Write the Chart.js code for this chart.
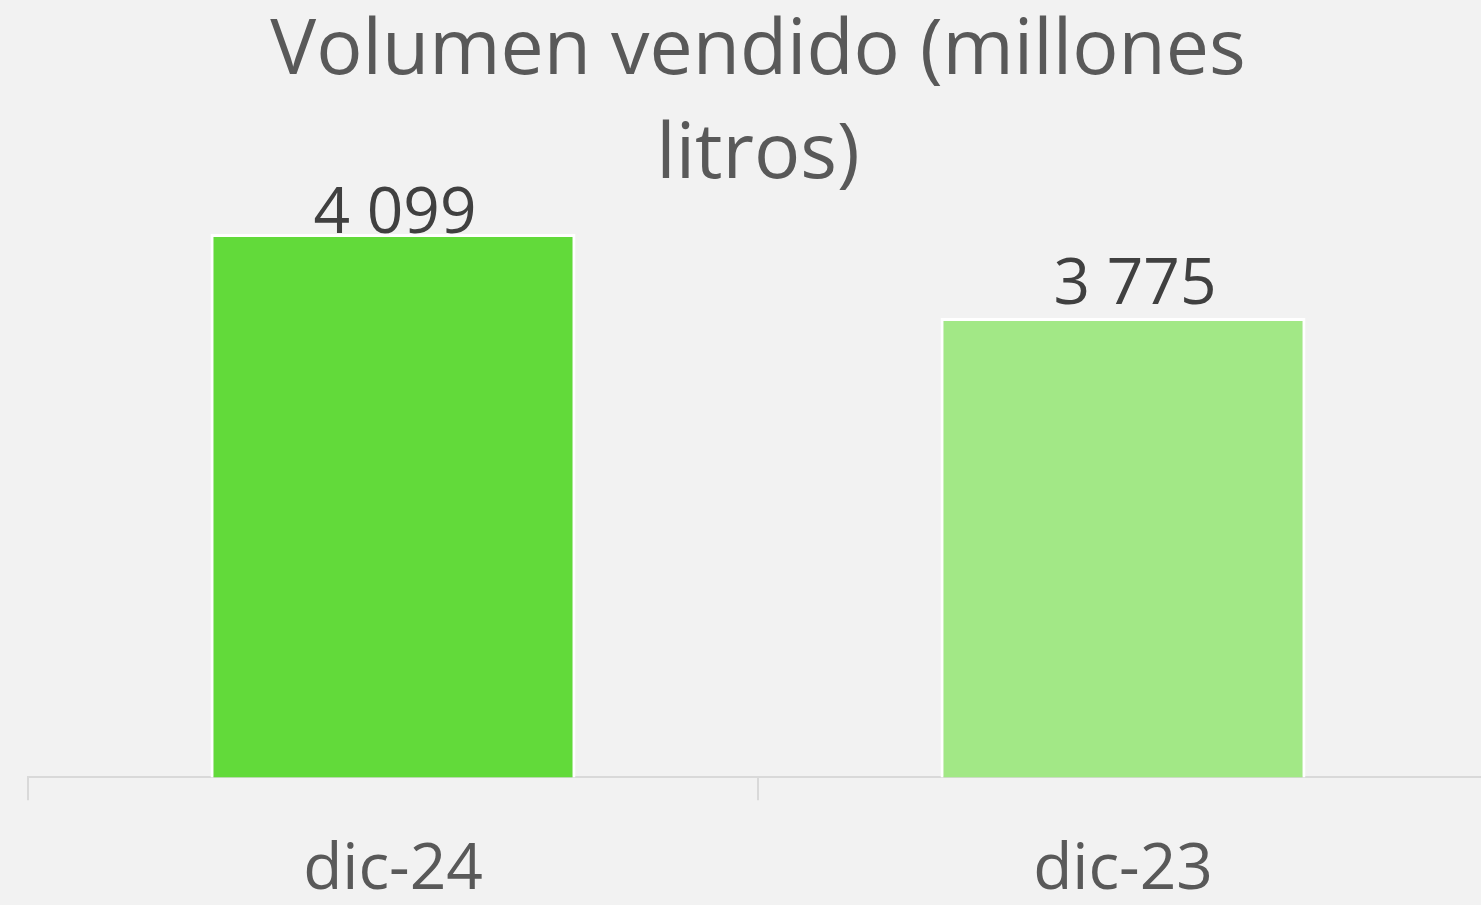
<!DOCTYPE html>
<html>
<head>
<meta charset="utf-8">
<script src="https://cdn.jsdelivr.net/npm/chart.js@4/dist/chart.umd.min.js"></script>
<style>
  html, body { margin: 0; padding: 0; background: #f2f2f2; overflow: hidden; }
  #wrap { width: 1488px; height: 941px; position: relative; }
</style>
</head>
<body>
<div id="wrap"><canvas id="volChart"></canvas></div>
<script>
const categories = ['dic-24', 'dic-23'];
const volumes = [4099, 3775];
const barColors = ['#62da3a', '#a2e886'];
const titleLines = ['Volumen vendido (millones', 'litros)'];

// "4099" -> "4 099"
const fmt = v => String(v).replace(/\B(?=(\d{3})+(?!\d))/g, ' ');

// value labels above the bars (no datalabels plugin available)
const valueLabels = {
  id: 'valueLabels',
  afterDatasetsDraw(chart) {
    const c = chart.ctx;
    const meta = chart.getDatasetMeta(0);
    c.save();
    c.font = '64px "Open Sans"';
    c.fillStyle = '#404040';
    c.textAlign = 'center';
    c.textBaseline = 'alphabetic';
    meta.data.forEach((bar, i) => {
      const dx = i === 1 ? 12 : 2;
      const dy = i === 1 ? 14 : 1;
      c.fillText(fmt(volumes[i]), bar.x + dx, bar.y - dy);
    });
    c.restore();
  }
};

const ctx = document.getElementById('volChart').getContext('2d');
const volChart = new Chart(ctx, {
  type: 'bar',
  data: {
    labels: categories,
    datasets: [{
      data: volumes,
      backgroundColor: barColors,
      borderColor: '#ffffff',
      borderWidth: 3,
      borderSkipped: false,
      categoryPercentage: 1,
      barPercentage: 0.5
    }]
  },
  options: {
    responsive: true,
    maintainAspectRatio: false,
    animation: false,
    layout: { padding: { left: 28, right: 0, top: 0, bottom: 0 } },
    plugins: {
      legend: { display: false },
      tooltip: { enabled: false },
      title: {
        display: true,
        text: titleLines,
        color: '#595959',
        font: { family: 'Open Sans', size: 77, weight: 'normal', lineHeight: 1.35 },
        padding: { top: 0, bottom: 0 }
      }
    },
    scales: {
      x: {
        grid: {
          display: true,
          offset: true,
          drawOnChartArea: false,
          drawTicks: true,
          tickLength: 23,
          color: '#d9d9d9',
          lineWidth: 2
        },
        border: { display: true, color: '#d9d9d9', width: 2 },
        ticks: {
          color: '#595959',
          padding: 32,
          font: { family: 'Open Sans', size: 64 }
        }
      },
      y: {
        display: false,
        min: 2000,
        max: 4200
      }
    }
  },
  plugins: [valueLabels]
});
</script>
</body>
</html>
